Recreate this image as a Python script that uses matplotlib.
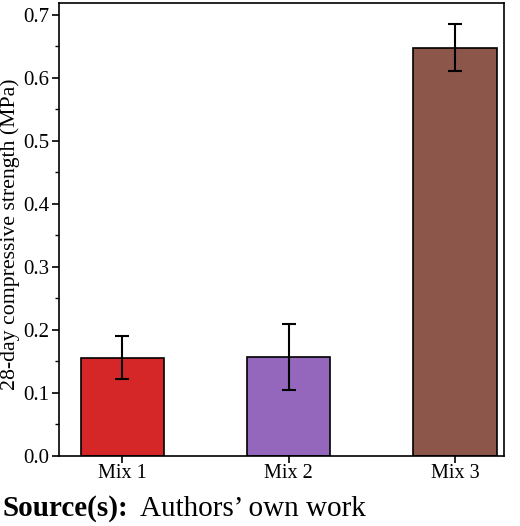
import matplotlib
matplotlib.use("Agg")
import matplotlib.pyplot as plt
from matplotlib.ticker import MultipleLocator

categories = ["Mix 1", "Mix 2", "Mix 3"]
strength = [0.156, 0.157, 0.648]
errors = [0.034, 0.053, 0.037]
colors = ["#d62728", "#9467bd", "#8c564b"]

plt.rcParams['font.family'] = ['Liberation Serif', 'DejaVu Serif']

fig = plt.figure(figsize=(5.2, 5.26), dpi=100)
ax = fig.add_axes([59/520, 1 - 456/526, (504-59)/520, (456-3)/526])

x = list(range(len(categories)))
ax.bar(x, strength, width=0.5, color=colors, edgecolor="black", linewidth=1.2,
       yerr=errors, capsize=5, error_kw=dict(elinewidth=1.5, capthick=1.5, ecolor="black"))

ax.set_xlim(-0.38, 2.295)
ax.set_ylim(0, 0.719)
ax.set_xticks(x)
ax.set_xticklabels(categories, fontsize=14.5)
ax.yaxis.set_major_locator(MultipleLocator(0.1))
ax.yaxis.set_minor_locator(MultipleLocator(0.05))
ax.tick_params(axis='y', labelsize=15, direction='out', length=5, width=1.2, pad=2)
ax.tick_params(axis='y', which='minor', length=3, width=1.0)
ax.tick_params(axis='x', direction='out', length=5, width=1.2, pad=1)
ax.set_ylabel("28-day compressive strength (MPa)", fontsize=15.7, labelpad=2)
ax.yaxis.set_label_coords(-0.088, 0.49)
for s in ax.spines.values():
    s.set_linewidth(1.2)

fig.text(3/520, 1 - 516/526, "Source(s):", fontsize=21, fontweight="bold", va="baseline", ha="left")
fig.text(140/520, 1 - 516/526, "Authors\u2019 own work", fontsize=21, va="baseline", ha="left")

fig.savefig("out.png", dpi=100)
